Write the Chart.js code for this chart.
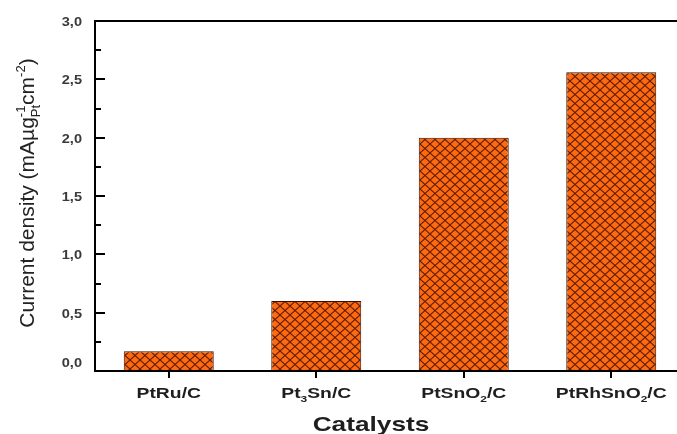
<!DOCTYPE html>
<html>
<head>
<meta charset="utf-8">
<script src="https://cdn.jsdelivr.net/npm/chart.js@4"></script>
<style>
  html, body { margin: 0; padding: 0; background: #fff; overflow: hidden; }
  #chart { display: block; }
</style>
</head>
<body>
<canvas id="chart" width="690" height="434"></canvas>
<script>
// === Dữ liệu
const catalysts = ["PtRu/C", "Pt3Sn/C", "PtSnO2/C", "PtRhSnO2/C"];
const currentDensity = [0.17, 0.6, 2.0, 2.56];
const yTicks = [0, 0.5, 1.0, 1.5, 2.0, 2.5, 3.0];
const xTitle = "Catalysts";
// tiêu đề trục y, có chỉ số trên / dưới
const yTitle = [
  { t: "Current density (mA\u00b5g" },
  { t: "Pt", k: "sub" },
  { t: "-1", k: "sup", stack: true },
  { t: "cm" },
  { t: "-2", k: "sup" },
  { t: ")" }
];

const FONT = '"Liberation Sans", Arial, sans-serif';

// chữ số trong tên chất xúc tác -> chỉ số dưới
function toParts(label) {
  return label.split(/(\d+)/).filter(s => s).map(s => /\d/.test(s) ? { t: s, k: "sub" } : { t: s });
}

function partFont(p, size, weight) {
  const s = p.k ? size * 0.62 : size;
  return weight + " " + s + "px " + FONT;
}

function richWidth(ctx, parts, size, weight) {
  let w = 0, prev = 0;
  parts.forEach(p => {
    ctx.font = partFont(p, size, weight);
    const pw = ctx.measureText(p.t).width;
    w += p.stack ? Math.max(0, pw - prev) : pw;
    prev = pw;
  });
  return w;
}

// vẽ chữ có chỉ số, căn theo align, có thể xoay và giãn ngang
function drawRich(ctx, parts, x, y, o) {
  const size = o.size, weight = o.weight || "normal";
  ctx.save();
  ctx.translate(x, y);
  if (o.rotate) ctx.rotate(o.rotate);
  ctx.scale(o.sx || 1, 1);
  const total = richWidth(ctx, parts, size, weight);
  let cx = o.align === "right" ? -total : o.align === "left" ? 0 : -total / 2;
  let prev = 0;
  ctx.fillStyle = o.color;
  ctx.textBaseline = "alphabetic";
  ctx.textAlign = "left";
  parts.forEach(p => {
    ctx.font = partFont(p, size, weight);
    const pw = ctx.measureText(p.t).width;
    let dy = 0;
    if (p.k === "sub") dy = size * 0.32;
    if (p.k === "sup") dy = -size * 0.45;
    let px = cx;
    if (p.stack) px = cx - prev;
    ctx.fillText(p.t, px, dy);
    cx = p.stack ? Math.max(cx, px + pw) : cx + pw;
    prev = pw;
  });
  ctx.restore();
}

// hoa văn gạch chéo cho cột
function makeHatch() {
  const c = document.createElement("canvas");
  c.width = 10;
  c.height = 9;
  const g = c.getContext("2d");
  g.fillStyle = "#ff6a10";
  g.fillRect(0, 0, 10, 9);
  g.strokeStyle = "#5c1e04";
  g.lineWidth = 1.1;
  g.beginPath();
  g.moveTo(0, 0); g.lineTo(10, 9);
  g.moveTo(10, 0); g.lineTo(0, 9);
  g.stroke();
  return g.createPattern(c, "repeat");
}

const axesPlugin = {
  id: "axesPlugin",
  afterDraw(chart) {
    const ctx = chart.ctx;
    const a = chart.chartArea;
    const xs = chart.scales.x, ys = chart.scales.y;
    ctx.save();
    // khung: trái, dưới, trên
    ctx.strokeStyle = "#000";
    ctx.lineWidth = 2;
    ctx.beginPath();
    ctx.moveTo(a.right + 10, a.top);
    ctx.lineTo(a.left, a.top);
    ctx.lineTo(a.left, a.bottom);
    ctx.lineTo(a.right + 10, a.bottom);
    ctx.stroke();

    // vạch chia trục y (hướng vào trong)
    ys.ticks.forEach(t => {
      const v = t.value;
      if (v <= 0 || v >= 3) return;
      const py = Math.round(ys.getPixelForValue(v));
      const major = Math.abs(v * 2 - Math.round(v * 2)) < 1e-6;
      ctx.beginPath();
      ctx.moveTo(a.left, py);
      ctx.lineTo(a.left + (major ? 10 : 6), py);
      ctx.stroke();
    });

    // vạch chia trục x (hướng ra ngoài)
    catalysts.forEach((c, i) => {
      const px = Math.round(xs.getPixelForValue(i));
      ctx.beginPath();
      ctx.moveTo(px, a.bottom);
      ctx.lineTo(px, a.bottom + 7);
      ctx.stroke();
    });

    // nhãn trục y
    yTicks.forEach(v => {
      let py = ys.getPixelForValue(v) + 5;
      if (v === 0) py -= 9;
      drawRich(ctx, [{ t: v.toFixed(1).replace(".", ",") }], a.left - 13, py,
        { size: 13, weight: "bold", sx: 1.12, align: "right", color: "#3a3a3a" });
    });

    // nhãn trục x
    catalysts.forEach((c, i) => {
      drawRich(ctx, toParts(c), xs.getPixelForValue(i), a.bottom + 27,
        { size: 14, weight: "bold", sx: 1.38, color: "#1e1e1e" });
    });

    // tiêu đề trục
    drawRich(ctx, [{ t: xTitle }], 371, 431,
      { size: 21, weight: "bold", sx: 1.25, color: "#1e1e1e" });
    drawRich(ctx, yTitle, 34, (a.top + a.bottom) / 2 - 3,
      { size: 20, rotate: -Math.PI / 2, sx: 1.05, color: "#222" });
    ctx.restore();
  }
};

new Chart(document.getElementById("chart"), {
  type: "bar",
  data: {
    labels: catalysts,
    datasets: [
      {
        data: currentDensity,
        backgroundColor: makeHatch(),
        borderColor: "#3a1000",
        borderWidth: 1,
        barPercentage: 0.61,
        categoryPercentage: 1.0
      }
    ]
  },
  options: {
    responsive: false,
    animation: false,
    devicePixelRatio: 1,
    layout: { padding: { left: 0, top: 21, right: 5, bottom: 0 } },
    plugins: {
      legend: { display: false },
      tooltip: { enabled: false }
    },
    scales: {
      x: {
        grid: { display: false, drawTicks: false },
        border: { display: false },
        ticks: { display: false },
        afterFit(s) { s.height = 63; }
      },
      y: {
        min: 0,
        max: 3,
        ticks: { display: false, stepSize: 0.25 },
        grid: { display: false, drawTicks: false },
        border: { display: false },
        afterFit(s) { s.width = 95; }
      }
    }
  },
  plugins: [axesPlugin]
});
</script>
</body>
</html>
